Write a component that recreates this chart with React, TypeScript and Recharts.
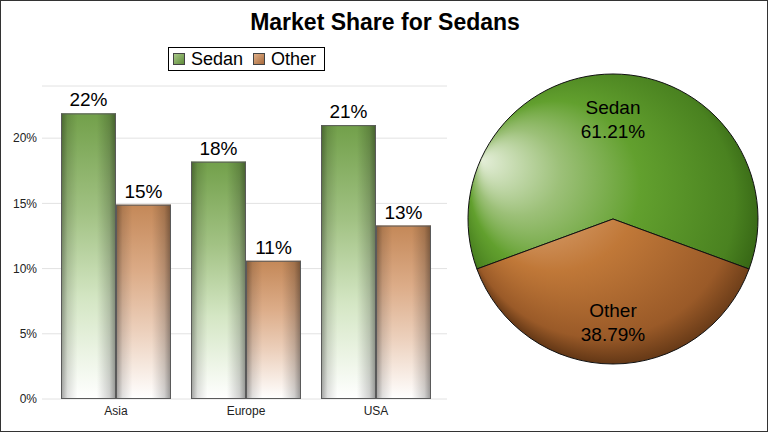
import React from 'react';
import { BarChart, Bar, XAxis, YAxis, CartesianGrid, LabelList, Legend, PieChart, Pie, Cell } from 'recharts';

const categories = ['Asia', 'Europe', 'USA'];
const sedanShare = [21.9, 18.2, 21.0];
const otherShare = [14.9, 10.6, 13.3];
const yTicks = [0, 5, 10, 15, 20];
const pieNames = ['Sedan', 'Other'];
const pieValues = [61.21, 38.79];

const barData = categories.map((c, i) => ({ region: c, Sedan: sedanShare[i], Other: otherShare[i] }));
const pieData = pieNames.map((n, i) => ({ name: n, value: pieValues[i] }));

const FONT = '"Liberation Sans", Arial, sans-serif';

const GlossBar = (props: any) => {
  const { x, y, width, height, gradId } = props;
  if (!height || height <= 0) return null;
  return (
    <g>
      <rect x={x} y={y} width={width} height={height} fill={`url(#${gradId})`} />
      <rect x={x} y={y} width={width} height={height} fill="url(#sideShade)" />
      <rect x={x + 0.5} y={y + 0.5} width={width - 1} height={height - 1} fill="none" stroke="#5a5a5a" strokeWidth={1} />
    </g>
  );
};

const LegendBox = () => (
  <div style={{ boxSizing: 'border-box', border: '1px solid #000', display: 'flex', alignItems: 'center', padding: '0 5px 0 4px', height: 24, width: 157, fontFamily: FONT, fontSize: 18, background: '#fff', whiteSpace: 'nowrap' }}>
    {pieNames.map((n, i) => (
      <span key={n} style={{ display: 'flex', alignItems: 'center', marginRight: i === 0 ? 10 : 0 }}>
        <span style={{ boxSizing: 'border-box', width: 12, height: 12, border: '1px solid #444', marginRight: 6, background: i === 0 ? 'linear-gradient(135deg,#a8c888,#5f8c3a)' : 'linear-gradient(135deg,#e0b088,#a86a3c)' }} />
        {n}
      </span>
    ))}
  </div>
);

const renderPieLabel = (p: any) => {
  const { cx, cy, midAngle, outerRadius, percent, name } = p;
  const r = outerRadius * 0.7;
  const rad = (Math.PI / 180) * midAngle;
  const tx = cx + r * Math.cos(rad);
  const ty = cy - r * Math.sin(rad);
  return (
    <text x={tx} y={ty} textAnchor="middle" fontFamily={FONT} fontSize={19} fill="#000">
      <tspan x={tx} dy={-4}>{name}</tspan>
      <tspan x={tx} dy={24}>{(percent * 100).toFixed(2)}%</tspan>
    </text>
  );
};

export default function App() {
  return (
    <div style={{ position: 'relative', width: 768, height: 432, boxSizing: 'border-box', border: '1px solid #333', background: '#fff', overflow: 'hidden' }}>
      <style>{`body{margin:0}`}</style>
      <div style={{ position: 'absolute', left: 0, top: 8, width: 768, textAlign: 'center', fontFamily: FONT, fontWeight: 'bold', fontSize: 23 }}>
        Market Share for Sedans
      </div>
      <div style={{ position: 'absolute', left: -1, top: -1 }}>
        <BarChart width={460} height={432} data={barData} margin={{ top: 86, right: 13, bottom: 3, left: 0 }} barCategoryGap={10} barGap={0}>
          <defs>
            <linearGradient id="sedanBar" x1="0" y1="0" x2="0" y2="1">
              <stop offset="0%" stopColor="#72a04a" />
              <stop offset="35%" stopColor="#a2c284" />
              <stop offset="65%" stopColor="#d4e6c4" />
              <stop offset="100%" stopColor="#ffffff" />
            </linearGradient>
            <linearGradient id="otherBar" x1="0" y1="0" x2="0" y2="1">
              <stop offset="0%" stopColor="#c48858" />
              <stop offset="35%" stopColor="#dcac88" />
              <stop offset="65%" stopColor="#ecd0bc" />
              <stop offset="100%" stopColor="#ffffff" />
            </linearGradient>
            <linearGradient id="sideShade" x1="0" y1="0" x2="1" y2="0">
              <stop offset="0%" stopColor="#000" stopOpacity={0.38} />
              <stop offset="12%" stopColor="#000" stopOpacity={0.12} />
              <stop offset="30%" stopColor="#000" stopOpacity={0} />
              <stop offset="65%" stopColor="#000" stopOpacity={0} />
              <stop offset="88%" stopColor="#000" stopOpacity={0.18} />
              <stop offset="100%" stopColor="#000" stopOpacity={0.42} />
            </linearGradient>
          </defs>
          <CartesianGrid horizontal vertical={false} stroke="#e2e2e2" />
          <XAxis dataKey="region" axisLine={false} tickLine={false} padding={{ left: 9, right: 6 }} tick={{ fontFamily: FONT, fontSize: 12, fill: '#222' }} tickMargin={1} />
          <YAxis width={42} domain={[0, 24]} ticks={yTicks} axisLine={false} tickLine={false} tickSize={0} tickMargin={5} tickFormatter={(v: number) => `${v}%`} tick={{ fontFamily: FONT, fontSize: 12, fill: '#222' }} />
          <Legend verticalAlign="middle" align="center" layout="horizontal" wrapperStyle={{ position: 'absolute', left: 168, top: 47, width: 'auto', height: 'auto' }} content={() => <LegendBox />} />
          <Bar dataKey="Sedan" isAnimationActive={false} shape={(p: any) => <GlossBar {...p} gradId="sedanBar" />}>
            <LabelList dataKey="Sedan" position="top" offset={7} formatter={(v: any) => `${Math.round(Number(v))}%`} style={{ fontFamily: FONT, fontSize: 19, fill: '#000' }} />
          </Bar>
          <Bar dataKey="Other" isAnimationActive={false} shape={(p: any) => <GlossBar {...p} gradId="otherBar" />}>
            <LabelList dataKey="Other" position="top" offset={7} formatter={(v: any) => `${Math.round(Number(v))}%`} style={{ fontFamily: FONT, fontSize: 19, fill: '#000' }} />
          </Bar>
        </BarChart>
      </div>
      <div style={{ position: 'absolute', left: 459, top: -1 }}>
        <PieChart width={308} height={432} margin={{ top: 0, right: 0, bottom: 0, left: 0 }}>
          <defs>
            <radialGradient id="sedanPie" gradientUnits="userSpaceOnUse" cx={168} cy={212} r={170} fx={22} fy={160}>
              <stop offset="0%" stopColor="#e4eed8" />
              <stop offset="25%" stopColor="#9cc078" />
              <stop offset="50%" stopColor="#62a02e" />
              <stop offset="80%" stopColor="#4a8220" />
              <stop offset="93%" stopColor="#2e5a10" />
              <stop offset="100%" stopColor="#1c3a08" />
            </radialGradient>
            <radialGradient id="otherPie" gradientUnits="userSpaceOnUse" cx={168} cy={212} r={170} fx={22} fy={160}>
              <stop offset="0%" stopColor="#f0d4b8" />
              <stop offset="25%" stopColor="#d8a070" />
              <stop offset="50%" stopColor="#c07838" />
              <stop offset="80%" stopColor="#9a5a28" />
              <stop offset="93%" stopColor="#5e3414" />
              <stop offset="100%" stopColor="#3a1e08" />
            </radialGradient>
          </defs>
          <Pie data={pieData} dataKey="value" nameKey="name" cx={153} cy={219} outerRadius={145} startAngle={-20.18} endAngle={339.82} stroke="#111" strokeWidth={1} label={renderPieLabel} labelLine={false} isAnimationActive={false}>
            <Cell fill="url(#sedanPie)" />
            <Cell fill="url(#otherPie)" />
          </Pie>
        </PieChart>
      </div>
    </div>
  );
}
